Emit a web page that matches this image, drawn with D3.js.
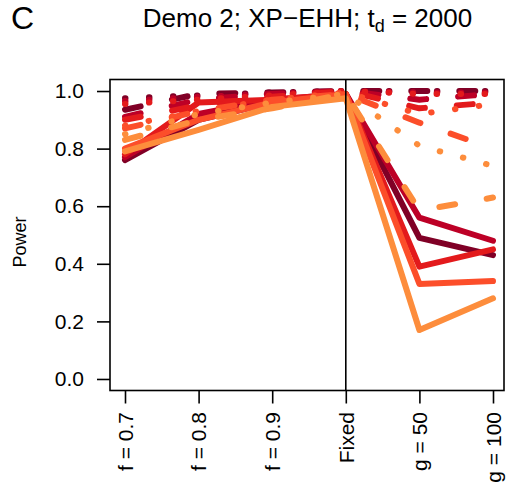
<!DOCTYPE html>
<html>
<head>
<meta charset="utf-8">
<script src="https://cdn.jsdelivr.net/npm/d3@7"></script>
<style>
  body { margin: 0; background: #fff; }
  text { font-family: "Liberation Sans", Arial, Helvetica, sans-serif; }
</style>
</head>
<body>
<div id="svg-container"></div>
<script>
////////////////////////////////////////////////////////////////////
////////////////////////////  Data  ////////////////////////////////
const categories = ["f = 0.7", "f = 0.8", "f = 0.9", "Fixed", "g = 50", "g = 100"];
const yTicks = [0, 0.2, 0.4, 0.6, 0.8, 1.0];
const colors = ["#800026", "#BD0026", "#E31A1C", "#FC4E2A", "#FD8D3C"];

// one row per colour, one value per category
const solidValues = [
  [0.76, 0.90, 0.96, 0.99, 0.49, 0.43],
  [0.77, 0.92, 0.97, 0.99, 0.56, 0.48],
  [0.78, 0.96, 0.97, 0.99, 0.39, 0.45],
  [0.80, 0.90, 0.96, 0.99, 0.33, 0.34],
  [0.79, 0.865, 0.945, 0.975, 0.17, 0.28]
];
const dashedValues = [
  [0.935, 0.99, 0.995, 1.0, 1.0, 1.0],
  [0.91, 0.97, 0.99, 1.0, 0.97, 0.99],
  [0.90, 0.95, 0.98, 1.0, 0.94, 0.96],
  [0.87, 0.93, 0.97, 0.99, 0.89, 0.80],
  [0.83, 0.90, 0.94, 0.99, 0.585, 0.63]
];
const dottedValues = [
  [0.975, 0.985, 0.995, 1.0, 1.0, 1.0],
  [0.965, 0.98, 0.99, 1.0, 0.995, 0.995],
  [0.955, 0.97, 0.985, 1.0, 0.99, 0.99],
  [0.88, 0.93, 0.97, 0.995, 0.92, 0.955],
  [0.85, 0.92, 0.96, 0.99, 0.81, 0.74]
];

////////////////////////////////////////////////////////////////////
////////////////////////////  Init  ////////////////////////////////
const width = 509;
const height = 491;
const box = { left: 110, right: 504, top: 79.5, bottom: 390.5 };

const svg = d3.select("#svg-container").append("svg")
  .attr("width", width)
  .attr("height", height);

const xScale = d3.scaleLinear().domain([0, categories.length - 1]).range([125, 493]);
const yScale = d3.scaleLinear().domain([-0.04, 1.04]).range([box.bottom, box.top]);

const line = d3.line()
  .x((d, i) => xScale(i))
  .y((d) => yScale(d));

// lines, drawn colour by colour
const styles = [
  { values: solidValues, dash: null },
  { values: dashedValues, dash: "16,32" },
  { values: dottedValues, dash: "0.5,23.5" }
];

const gLines = svg.append("g");
colors.forEach((c, ci) => {
  styles.forEach((s) => {
    gLines.append("path")
      .datum(s.values[ci])
      .attr("fill", "none")
      .attr("stroke", c)
      .attr("stroke-width", 6)
      .attr("stroke-linecap", "round")
      .attr("stroke-linejoin", "round")
      .attr("stroke-dasharray", s.dash)
      .attr("d", line);
  });
});

// vertical line at Fixed
svg.append("line")
  .attr("x1", xScale(3)).attr("x2", xScale(3))
  .attr("y1", box.top).attr("y2", box.bottom)
  .attr("stroke", "#000")
  .attr("stroke-width", 1.6);

// box
svg.append("rect")
  .attr("x", box.left).attr("y", box.top)
  .attr("width", box.right - box.left)
  .attr("height", box.bottom - box.top)
  .attr("fill", "none")
  .attr("stroke", "#000")
  .attr("stroke-width", 1.6);

// axes
const yAxis = d3.axisLeft(yScale)
  .tickValues(yTicks)
  .tickSize(13)
  .tickPadding(13)
  .tickFormat(d3.format(".1f"));

const gy = svg.append("g")
  .attr("transform", `translate(${box.left},0)`)
  .call(yAxis);
gy.select(".domain").remove();
gy.selectAll("line").attr("stroke", "#000").attr("stroke-width", 1.6);
gy.selectAll("text").attr("font-size", 21).attr("fill", "#000")
  .style("font-family", "'Liberation Sans', Arial, sans-serif");

const xAxis = d3.axisBottom(xScale)
  .tickValues(d3.range(categories.length))
  .tickSize(13)
  .tickFormat((d) => categories[d]);

const gx = svg.append("g")
  .attr("transform", `translate(0,${box.bottom})`)
  .call(xAxis);
gx.select(".domain").remove();
gx.selectAll("line").attr("stroke", "#000").attr("stroke-width", 1.6);
gx.selectAll("text")
  .attr("font-size", 21)
  .attr("fill", "#000")
  .style("font-family", "'Liberation Sans', Arial, sans-serif")
  .attr("text-anchor", "end")
  .attr("transform", "rotate(-90)")
  .attr("x", -21.5)
  .attr("y", 0)
  .attr("dy", "0.35em");

// labels
svg.append("text")
  .attr("x", 20)
  .attr("y", 242)
  .attr("transform", "rotate(-90,20,242)")
  .attr("text-anchor", "middle")
  .attr("dy", "0.35em")
  .attr("font-size", 18)
  .text("Power");

const title = svg.append("text")
  .attr("x", 307.5)
  .attr("y", 27)
  .attr("text-anchor", "middle")
  .attr("font-size", 26);
title.append("tspan").text("Demo 2; XP\u2212EHH; t");
title.append("tspan").attr("font-size", 18).attr("dy", 5).text("d");
title.append("tspan").attr("dy", -5).text(" = 2000");

svg.append("text")
  .attr("x", 11)
  .attr("y", 29)
  .attr("font-size", 32)
  .text("C");
</script>
</body>
</html>
